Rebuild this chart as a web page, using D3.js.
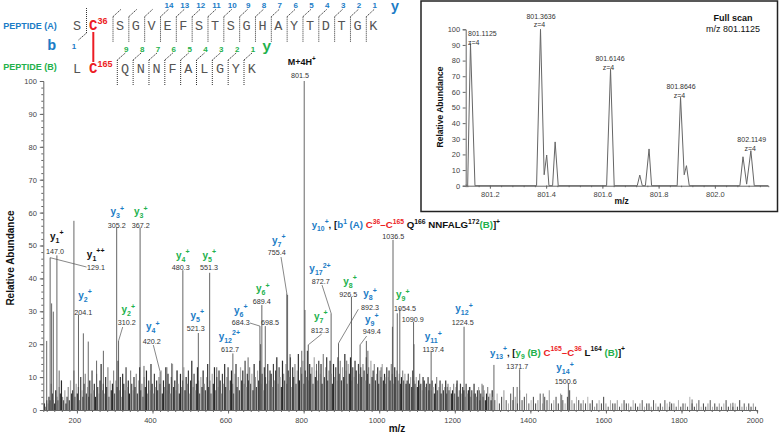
<!DOCTYPE html>
<html>
<head>
<meta charset="utf-8">
<script src="https://cdn.jsdelivr.net/npm/d3@7"></script>
<style>
  body { margin: 0; background: #fff; }
  svg { font-family: "Liberation Sans", Arial, sans-serif; }
  text { white-space: pre; }
</style>
</head>
<body>
<svg id="chart" width="779" height="435"></svg>
<script>
// ---------- data ----------
var mzTicks = [200, 400, 600, 800, 1000, 1200, 1400, 1600, 1800, 2000];
var abTicks = [0, 10, 20, 30, 40, 50, 60, 70, 80, 90, 100];

// main peaks [m/z, relative abundance]
var peaks = [
  [120, 21], [129.1, 46.3], [133, 32.4], [137.5, 29.9], [147.0, 47], [153, 12],
  [192, 57.5], [204.1, 29], [217, 23.3], [230, 20.8], [252, 15], [270, 18],
  [305.2, 55.5], [310.2, 21], [367.2, 55.5], [377.5, 13.4], [420.2, 11.6], [438, 13],
  [450.8, 14.2], [465, 12], [480.3, 42.5], [521.3, 23.4], [551.3, 41.7], [570, 13],
  [612.7, 17.2], [653, 16], [684.3, 25.5], [686, 20], [689.4, 31.9], [698.5, 25.5],
  [728, 15], [755.4, 35.5], [757.5, 35], [764, 17], [795, 18], [801.5, 100], [803.5, 30.4],
  [812.3, 19.8], [834, 14], [872.7, 29.4], [892.3, 20.3], [914, 15], [926.5, 34.4],
  [949.4, 19.8], [966, 21], [970, 18], [1005, 13], [1015, 10], [1035, 25.3],
  [1036.5, 51.7], [1047.8, 29.4], [1054.5, 31], [1077, 11], [1090.9, 26.8], [1092, 20],
  [1108, 7.5], [1130, 10], [1137.4, 17.7], [1150, 6], [1180, 7], [1205, 8], [1224.5, 25.3],
  [1240, 7], [1265, 6], [1275, 7.5], [1303.6, 13.7], [1355, 7], [1365, 7], [1371.7, 12.4],
  [1434, 5], [1483, 4.6], [1500.6, 8.1], [1769, 2.5], [1828, 3.2], [1936, 2.2]
];

// background "grass": one value every 3 m/z from 114, then every 6 m/z from 1300
var grassStartA = 114, grassStepA = 3;
var grassA = [
  2,1,3,2,4,3,8,5,3,2,6,4,3,7,5,9,4,3,6,2,
  4,7,3,9,5,6,12,4,8,5,7,3,10,6,4,8,11,5,7,4,
  9,5,12,6,8,4,11,7,5,9,14,6,8,5,10,7,13,4,9,6,
  8,12,5,9,7,15,6,10,4,11,8,6,13,7,9,5,12,8,6,10,
  7,11,5,9,13,6,8,4,10,7,12,5,9,6,14,8,5,11,7,9,
  6,10,8,12,5,9,7,13,6,11,8,5,10,14,7,9,6,12,8,5,
  11,7,9,13,6,10,8,12,5,9,15,7,11,6,8,13,9,5,10,7,
  12,8,6,10,14,7,9,5,11,8,13,6,10,7,12,9,5,11,8,14,
  7,10,13,6,9,12,8,5,11,14,7,10,6,13,9,12,8,15,7,11,
  9,13,8,11,6,14,10,7,12,9,15,8,11,6,13,10,8,14,9,12,
  11,7,14,9,12,16,8,13,10,7,15,11,9,14,8,12,10,16,7,13,
  10,14,8,12,17,9,13,11,15,8,12,10,18,9,14,11,13,8,16,10,
  12,9,15,11,14,8,17,10,13,16,9,12,15,11,8,14,10,13,9,16,
  11,15,9,13,10,17,12,8,14,11,16,9,13,10,15,12,8,14,11,13,
  10,14,12,9,16,11,13,8,15,10,12,14,9,11,13,8,12,10,14,9,
  11,8,13,10,12,9,14,11,8,13,10,12,9,11,8,10,12,9,11,8,
  9,11,8,10,7,12,9,8,10,7,9,11,8,6,10,9,7,8,10,6,
  8,6,9,7,5,8,10,6,7,9,5,8,6,7,9,5,8,6,7,5,
  6,8,5,7,9,4,6,8,5,7,6,4,8,5,6,7,4,6,5,8,
  5,4,6,7,3,5,8,4,6,3,5,7,4,5,3,6
];
var grassStartB = 1300, grassStepB = 6;
var grassB = [
  4,3,5,2,4,6,3,2,5,3,4,2,6,3,4,5,2,3,4,2,
  3,5,2,4,3,6,2,3,4,2,5,3,2,4,6,3,2,4,3,2,
  3,2,4,2,3,1,2,3,2,4,2,1,3,2,2,3,1,2,3,2,
  2,1,3,2,1,2,3,1,2,2,1,3,2,1,2,1,3,2,1,2,
  2,1,3,1,2,2,1,4,2,1,2,3,1,2,1,2,3,1,2,1,
  2,1,2,3,1,2,1,2,1,3,1,2,1,2,1,2,1
];

// annotated peaks: value text, m/z, ion, subscript, charge, colour key
var ions = [
  ["147.0", 147.0, "y", "1", "+", "k"],
  ["129.1", 129.1, "y", "1", "++", "k"],
  ["204.1", 204.1, "y", "2", "+", "b"],
  ["305.2", 305.2, "y", "3", "+", "b"],
  ["310.2", 310.2, "y", "2", "+", "g"],
  ["367.2", 367.2, "y", "3", "+", "g"],
  ["420.2", 420.2, "y", "4", "+", "b"],
  ["480.3", 480.3, "y", "4", "+", "g"],
  ["521.3", 521.3, "y", "5", "+", "b"],
  ["551.3", 551.3, "y", "5", "+", "g"],
  ["612.7", 612.7, "y", "12", "2+", "b"],
  ["684.3", 684.3, "y", "6", "+", "b"],
  ["689.4", 689.4, "y", "6", "+", "g"],
  ["698.5", 698.5, null],
  ["755.4", 755.4, "y", "7", "+", "b"],
  ["801.5", 801.5, "M+4H", "", "+", "k"],
  ["812.3", 812.3, "y", "7", "+", "g"],
  ["872.7", 872.7, "y", "17", "2+", "b"],
  ["892.3", 892.3, "y", "8", "+", "b"],
  ["926.5", 926.5, "y", "8", "+", "g"],
  ["949.4", 949.4, "y", "9", "+", "b"],
  ["1036.5", 1036.5, null],
  ["1054.5", 1054.5, "y", "9", "+", "g"],
  ["1090.9", 1090.9, null],
  ["1137.4", 1137.4, "y", "11", "+", "b"],
  ["1224.5", 1224.5, "y", "12", "+", "b"],
  ["1371.7", 1371.7, null],
  ["1500.6", 1500.6, "y", "14", "+", "b"]
];

// two long fragment labels: [text, colour key, "sub"|"sup"]
var formula1036 = [["y","b"],["10","b","sub"],["+","b","sup"],[", [","k"],["b","b"],["1","b","sup"],[" (A) ","b"],
  ["C","r"],["36","r","sup"],["–C","r"],["165","r","sup"],[" Q","k"],["166","k","sup"],[" NNFALG","k"],
  ["172","k","sup"],["(B)","g"],["]","k"],["+","k","sup"]];
var formula1371 = [["y","b"],["13","b","sub"],["+","b","sup"],[", [","k"],["y","g"],["9","g","sub"],[" (B) ","g"],
  ["C","r"],["165","r","sup"],["–C","r"],["36","r","sup"],[" L","k"],["164","k","sup"],[" (B)","g"],["]","k"],["+","k","sup"]];

// peptides
var pepA = ["S","G","V","E","F","S","T","S","G","H","A","Y","T","D","T","G","K"];
var pepB = ["Q","N","N","F","A","L","G","Y","K"];
var yNumA = [null,null,null,14,13,12,11,10,9,8,7,6,5,4,3,2,1];
var yNumB = [9,8,7,6,5,4,3,2,1];

// inset full scan trace [m/z, abundance]
var scanTrace = [
  [801.114,0.5],[801.121,0],[801.131,91],[801.147,0],
  [801.366,0],[801.380,100],[801.393,7],[801.402,19.6],[801.410,0],
  [801.423,0],[801.432,28],[801.443,0],
  [801.615,0],[801.629,74.4],[801.642,0],
  [801.724,0],[801.733,6.8],[801.742,0],
  [801.753,0],[801.766,23.5],[801.775,0],
  [801.866,0],[801.878,56.5],[801.891,7],[801.899,12.8],[801.909,0],
  [802.089,0],[802.100,18.5],[802.113,1],[802.128,22.4],[802.140,0],[802.19,0]
];
var scanTicks = [801.2, 801.4, 801.6, 801.8, 802.0];
var scanAbTicks = [0, 10, 20, 30, 40, 50, 60, 70, 80, 90, 100];
var scanPeakText = ["801.1125", "801.3636", "801.6146", "801.8646", "802.1149"];

// ---------- drawing ----------
var col = { b: "#1b7cc6", g: "#22b14c", r: "#ec1c24", k: "#111" };
var svg = d3.select("#chart");

var x = d3.scaleLinear().domain([111, 1999]).range([43.3, 756.7]);
var y = d3.scaleLinear().domain([0, 100]).range([410, 81]);

// grass
var grass = grassA.map(function (v, i) { return [grassStartA + i * grassStepA, v]; })
  .concat(grassB.map(function (v, i) { return [grassStartB + i * grassStepB, v]; }));
var shades = ["#2a2a2a", "#8a8a8a", "#444", "#a8a8a8", "#333"];
svg.append("g").selectAll("line").data(grass).enter().append("line")
  .attr("x1", function (d) { return x(d[0]); }).attr("x2", function (d) { return x(d[0]); })
  .attr("y1", y(0)).attr("y2", function (d) { return y(d[1]); })
  .attr("stroke", function (d, i) { return shades[i % shades.length]; })
  .attr("stroke-width", function (d) { return d[0] < 1300 ? 1.2 : 0.9; });

svg.append("g").selectAll("line").data(peaks).enter().append("line")
  .attr("x1", function (d) { return x(d[0]); }).attr("x2", function (d) { return x(d[0]); })
  .attr("y1", y(0)).attr("y2", function (d) { return y(d[1]); })
  .attr("stroke", "#555").attr("stroke-width", 0.9);

// axes
function styleAxis(g) {
  g.selectAll("path,line").attr("stroke", "#666");
  g.selectAll("text").attr("fill", "#444").attr("font-size", 7.5);
}
svg.append("g").attr("transform", "translate(0,410)")
  .call(d3.axisBottom(x).tickValues(d3.range(120, 2001, 20)).tickSize(2).tickFormat(""))
  .call(styleAxis);
svg.append("g").attr("transform", "translate(0,410)")
  .call(d3.axisBottom(x).tickValues(mzTicks).tickSize(3.5).tickPadding(4).tickFormat(d3.format("d")))
  .call(styleAxis)
  .call(function (g) { g.select(".domain").remove(); g.selectAll("text").attr("x", -2.6); });
svg.append("g").attr("transform", "translate(43.3,0)")
  .call(d3.axisLeft(y).tickValues(d3.range(0, 101, 2)).tickSize(2).tickFormat(""))
  .call(styleAxis);
svg.append("g").attr("transform", "translate(43.3,0)")
  .call(d3.axisLeft(y).tickValues(abTicks).tickSize(3.5).tickPadding(3))
  .call(styleAxis)
  .call(function (g) { g.select(".domain").remove(); });

svg.append("text").attr("transform", "translate(14,258) rotate(-90)")
  .attr("text-anchor", "middle").attr("font-weight", "bold").attr("font-size", 10)
  .attr("fill", "#111").text("Relative Abundance");
svg.append("text").attr("x", 397).attr("y", 432).attr("text-anchor", "middle")
  .attr("font-weight", "bold").attr("font-size", 10).attr("fill", "#111").text("m/z");

// rich text helper
function rich(g, px, py, segs, size, anchor) {
  var t = g.append("text").attr("x", px).attr("y", py).attr("font-weight", "bold")
    .attr("font-size", size).attr("text-anchor", anchor || "start");
  var off = 0;
  segs.forEach(function (s) {
    var target = s[2] === "sub" ? size * 0.32 : s[2] === "sup" ? -size * 0.42 : 0;
    t.append("tspan").attr("dy", target - off).attr("fill", col[s[1]])
      .attr("font-size", s[2] ? size * 0.7 : size).text(s[0]);
    off = target;
  });
  return t;
}

// label layout: value text (x, baseline), ion text (x, baseline), leader start or null
var labelPos = {
  "147.0": [55, 254, 56.7, 239.5, null],
  "129.1": [96, 270, 95.7, 257.5, [86.5, 267]],
  "204.1": [83.3, 314.5, 85, 298.5, null],
  "305.2": [116.7, 227.5, 117.3, 215, null],
  "310.2": [126.7, 325, 128.3, 313, [122.7, 327]],
  "367.2": [140.7, 227.5, 140.7, 215, null],
  "420.2": [151.7, 343.5, 152.7, 330, [153.3, 345]],
  "480.3": [180.7, 269.5, 182.7, 258.5, null],
  "521.3": [195.7, 331, 197.3, 318.5, null],
  "551.3": [209, 269.5, 209.3, 258.5, null],
  "612.7": [230, 352, 229.3, 339.5, null],
  "684.3": [240.7, 325, 240.7, 313.5, [250, 323]],
  "689.4": [261.7, 304, 262.7, 292, null],
  "698.5": [270, 325, 0, 0, null],
  "755.4": [276.7, 255, 278.7, 243.5, [281, 257]],
  "801.5": [300, 77.5, 301.7, 65, null],
  "812.3": [320, 332.5, 320.7, 319.5, [321.7, 334]],
  "872.7": [320.7, 283.5, 320, 272, [322, 285]],
  "892.3": [370, 310, 370, 297, [358.3, 309.3]],
  "926.5": [348.3, 297, 350, 284.5, null],
  "949.4": [371.7, 334, 371.7, 322.5, [366.7, 336]],
  "1036.5": [393.3, 238.5, 0, 0, null],
  "1054.5": [405, 311, 402.7, 298, null],
  "1090.9": [412.7, 322, 0, 0, null],
  "1137.4": [433.3, 352, 433.3, 340, null],
  "1224.5": [462.7, 325, 464, 312, null],
  "1371.7": [517.3, 368.5, 0, 0, null],
  "1500.6": [565.7, 383.5, 565, 371, null]
};

var ann = svg.append("g");
ions.forEach(function (d) {
  var p = labelPos[d[0]];
  var top = peaks.filter(function (q) { return q[0] === d[1]; })[0];
  ann.append("text").attr("x", p[0]).attr("y", p[1]).attr("text-anchor", "middle")
    .attr("font-size", 7.2).attr("fill", "#333").text(d[0]);
  if (p[4] && top) {
    ann.append("line").attr("x1", p[4][0]).attr("y1", p[4][1])
      .attr("x2", x(top[0])).attr("y2", y(top[1]))
      .attr("stroke", "#555").attr("stroke-width", 0.7);
  }
  if (d[2]) {
    var size = d[2] === "M+4H" ? 9 : 10;
    var segs = [[d[2], d[5]]];
    if (d[3]) segs.push([d[3], d[5], "sub"]);
    segs.push([d[4], d[5], "sup"]);
    rich(ann, p[2], p[3], segs, size, "middle");
  }
});
rich(ann, 311.7, 228, formula1036, 9.7, "start");
rich(ann, 490, 355.5, formula1371, 9.7, "start");

// ---------- peptide diagram ----------
var pg = svg.append("g");
var xa = d3.scalePoint().domain(d3.range(pepA.length)).range([120, 373.3]);
var xb = d3.scalePoint().domain(d3.range(pepB.length)).range([125, 251.7]);
var mono = "'Liberation Mono', 'Courier New', monospace";

pg.append("text").attr("x", 3.3).attr("y", 28.5).attr("font-weight", "bold").attr("font-size", 9)
  .attr("fill", col.b).text("PEPTIDE (A)");
pg.append("text").attr("x", 3.3).attr("y", 70).attr("font-weight", "bold").attr("font-size", 9)
  .attr("fill", col.g).text("PEPTIDE (B)");

function letters(scale, arr, base) {
  pg.append("g").selectAll("text").data(arr).enter().append("text")
    .attr("x", function (d, i) { return scale(i); }).attr("y", base)
    .attr("text-anchor", "middle").attr("font-family", mono).attr("font-size", 13.5)
    .attr("fill", "#555").text(function (d) { return d; });
}
letters(xa, pepA, 29.5);
letters(xb, pepB, 72.5);
pg.append("text").attr("x", 77).attr("y", 29.5).attr("text-anchor", "middle")
  .attr("font-family", mono).attr("font-size", 13.5).attr("fill", "#555").text("S");
pg.append("text").attr("x", 77).attr("y", 72.5).attr("text-anchor", "middle")
  .attr("font-family", mono).attr("font-size", 13.5).attr("fill", "#555").text("L");

function cys(px, py, num) {
  var t = pg.append("text").attr("x", px).attr("y", py).attr("font-weight", "bold").attr("fill", col.r);
  t.append("tspan").attr("font-family", mono).attr("font-size", 14).text("C");
  t.append("tspan").attr("dy", -6).attr("font-size", 9).text(num);
}
cys(89, 29.5, "36");
cys(89, 72.5, "165");
pg.append("line").attr("x1", 93.3).attr("x2", 93.3).attr("y1", 32).attr("y2", 62)
  .attr("stroke", col.r).attr("stroke-width", 2);

function marker(mx, y0, y1, fx, fy) {
  pg.append("line").attr("x1", mx).attr("x2", mx).attr("y1", y0).attr("y2", y1)
    .attr("stroke", "#333").attr("stroke-width", 1).attr("stroke-dasharray", "1,1");
  pg.append("line").attr("x1", mx).attr("y1", fy[0]).attr("x2", mx + fx).attr("y2", fy[1])
    .attr("stroke", "#333").attr("stroke-width", 0.9).attr("stroke-dasharray", "1.5,0.8");
}
pepA.forEach(function (d, i) {
  var mx = xa(i) - 7;
  marker(mx, 16.7, 42, 8, [16.7, 9.3]);
  if (yNumA[i]) pg.append("text").attr("x", mx + 8.5).attr("y", 7.8).attr("text-anchor", "middle")
    .attr("font-weight", "bold").attr("font-size", 8).attr("fill", col.b).text(yNumA[i]);
});
pepB.forEach(function (d, i) {
  var mx = xb(i) - 7.7;
  marker(mx, 60, 86, 8, [60, 53]);
  pg.append("text").attr("x", mx + 9).attr("y", 52).attr("text-anchor", "middle")
    .attr("font-weight", "bold").attr("font-size", 8).attr("fill", col.g).text(yNumB[i]);
});
marker(86.5, 8, 33, -8, [33, 40]);
pg.append("text").attr("x", 74).attr("y", 49).attr("text-anchor", "middle")
  .attr("font-weight", "bold").attr("font-size", 8).attr("fill", col.b).text("1");
pg.append("text").attr("x", 51.7).attr("y", 50).attr("text-anchor", "middle").attr("font-family", mono)
  .attr("font-weight", "bold").attr("font-size", 15).attr("fill", col.b).text("b");
pg.append("text").attr("x", 395).attr("y", 11).attr("text-anchor", "middle").attr("font-family", mono)
  .attr("font-weight", "bold").attr("font-size", 14).attr("fill", col.b).text("y");
pg.append("text").attr("x", 266.7).attr("y", 51).attr("text-anchor", "middle").attr("font-family", mono)
  .attr("font-weight", "bold").attr("font-size", 15).attr("fill", col.g).text("y");

// ---------- inset: full scan ----------
var ig = svg.append("g");
ig.append("rect").attr("x", 421).attr("y", 1).attr("width", 356.5).attr("height", 210.5)
  .attr("fill", "#fff").attr("stroke", "#222").attr("stroke-width", 1.5);
var sx = d3.scaleLinear().domain([801.114, 802.19]).range([465.7, 768.3]);
var sy = d3.scaleLinear().domain([0, 100]).range([185.7, 29.3]);

ig.append("g").attr("transform", "translate(0,185.7)")
  .call(d3.axisBottom(sx).tickValues(d3.range(801.12, 802.19, 0.04)).tickSize(1.5).tickFormat(""))
  .call(styleAxis);
ig.append("g").attr("transform", "translate(0,185.7)")
  .call(d3.axisBottom(sx).tickValues(scanTicks).tickSize(3).tickPadding(3).tickFormat(d3.format(".1f")))
  .call(styleAxis).call(function (g) { g.select(".domain").remove(); });
ig.append("g").attr("transform", "translate(465.7,0)")
  .call(d3.axisLeft(sy).tickValues(scanAbTicks).tickSize(3).tickPadding(2.5))
  .call(styleAxis);

ig.append("path").datum(scanTrace)
  .attr("d", d3.line().x(function (d) { return sx(d[0]); }).y(function (d) { return sy(d[1]); }))
  .attr("fill", "none").attr("stroke", "#666").attr("stroke-width", 1);

var scanLabelPos = [[468, 36, "start"], [541, 18.5, "middle"], [610, 61, "middle"], [681, 89, "middle"], [751.7, 142, "middle"]];
scanPeakText.forEach(function (t, i) {
  var p = scanLabelPos[i];
  ig.append("text").attr("x", p[0]).attr("y", p[1]).attr("text-anchor", p[2])
    .attr("font-size", 7).attr("fill", "#333").text(t);
  ig.append("text").attr("x", p[2] === "start" ? p[0] : p[0] - 1.5).attr("y", p[1] + 8.7).attr("text-anchor", p[2])
    .attr("font-size", 7).attr("fill", "#333").text("z=4");
});

ig.append("text").attr("transform", "translate(443,107) rotate(-90)").attr("text-anchor", "middle")
  .attr("font-weight", "bold").attr("font-size", 8.5).attr("fill", "#111").text("Relative Abundance");
ig.append("text").attr("x", 621.7).attr("y", 204).attr("text-anchor", "middle")
  .attr("font-weight", "bold").attr("font-size", 8.5).attr("fill", "#111").text("m/z");
ig.append("text").attr("x", 733).attr("y", 21).attr("text-anchor", "middle")
  .attr("font-weight", "bold").attr("font-size", 9).attr("fill", "#111").text("Full scan");
ig.append("text").attr("x", 733).attr("y", 32).attr("text-anchor", "middle")
  .attr("font-size", 9).attr("fill", "#111").text("m/z 801.1125");
</script>
</body>
</html>
